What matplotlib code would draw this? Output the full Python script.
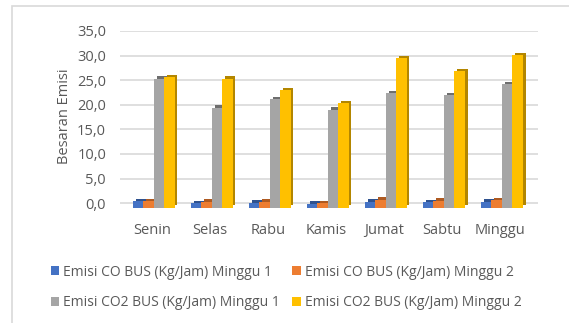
import numpy as np
import matplotlib.pyplot as plt
from matplotlib.patches import Rectangle

plt.rcParams['font.family'] = ['Open Sans', 'DejaVu Sans']

hari = ['Senin', 'Selas', 'Rabu', 'Kamis', 'Jumat', 'Sabtu', 'Minggu']
co_m1 = [1.3, 0.9, 1.0, 0.8, 1.2, 1.1, 1.2]
co_m2 = [1.3, 1.2, 1.2, 0.9, 1.6, 1.4, 1.5]
co2_m1 = [26.2, 20.3, 22.0, 19.9, 23.3, 22.8, 25.1]
co2_m2 = [26.6, 26.2, 23.8, 21.3, 30.4, 27.7, 31.0]

seri = [
    ('Emisi CO BUS (Kg/Jam) Minggu 1', co_m1, '#4472c4', '#2f528f'),
    ('Emisi CO BUS (Kg/Jam) Minggu 2', co_m2, '#ed7d31', '#ae5a21'),
    ('Emisi CO2 BUS (Kg/Jam) Minggu 1', co2_m1, '#a5a5a5', '#6e6e6e'),
    ('Emisi CO2 BUS (Kg/Jam) Minggu 2', co2_m2, '#ffc000', '#b38600'),
]

fig = plt.figure(figsize=(5.69, 3.23), dpi=100)
W, H = 569, 323
ax = fig.add_axes([120 / W, 1 - 208 / H, (538 - 120) / W, (208 - 31) / H])

x = np.arange(len(hari))
lebar = 0.18
dx, dy = 0.05, 0.45  # offset untuk sisi "3D"

handles = []
for i, (nama, nilai, warna, gelap) in enumerate(seri):
    pos = x - 0.33 + i * lebar + lebar / 2
    ax.bar(pos + dx, nilai, lebar, bottom=dy - 0.9, color=gelap, zorder=2 + i)
    b = ax.bar(pos, nilai, lebar, bottom=-0.9, color=warna, label=nama, zorder=2 + i)
    handles.append(b)

ax.set_xlim(-0.55, 6.655)
ax.set_ylim(-1.0, 35.0)
ax.set_yticks(np.arange(0, 36, 5))
ax.set_yticklabels([f'{v:.1f}'.replace('.', ',') for v in np.arange(0, 36, 5)])
ax.set_xticks(x)
ax.set_xticklabels(hari)
ax.yaxis.grid(True, color='#d9d9d9', linewidth=1.2, zorder=0)
ax.set_axisbelow(True)
for s in ax.spines.values():
    s.set_visible(False)
ax.tick_params(axis='both', length=0, colors='#595959', labelsize=10.5)
ax.tick_params(axis='x', pad=11)
ax.tick_params(axis='y', pad=10)
ax.set_ylabel('Besaran Emisi', color='#595959', fontsize=10.5)
ax.yaxis.set_label_coords(-0.115, 0.52)

# urutan legenda: baris per baris
urut = [0, 2, 1, 3]
fig.legend([handles[k] for k in urut], [seri[k][0] for k in urut],
           loc='upper left', bbox_to_anchor=(38 / W, 1 - 252 / H), ncol=2,
           frameon=False, fontsize=10, labelcolor='#595959', handlelength=0.6,
           handleheight=0.6, handletextpad=0.3, columnspacing=0.9,
           labelspacing=1.15)

# bingkai grafik
fig.patches.append(Rectangle((12 / W, -0.05), 1.0, 1 - 6 / H + 0.05,
                             transform=fig.transFigure, fill=False,
                             edgecolor='#d9d9d9', linewidth=1.2))

fig.text(0.5, 1 + 1 / H, 'Grafik Besaran Emisi CO dan CO\u2082', ha='center',
         va='baseline', fontsize=13, fontweight='bold', color='black')

fig.savefig('out.png', dpi=100)
